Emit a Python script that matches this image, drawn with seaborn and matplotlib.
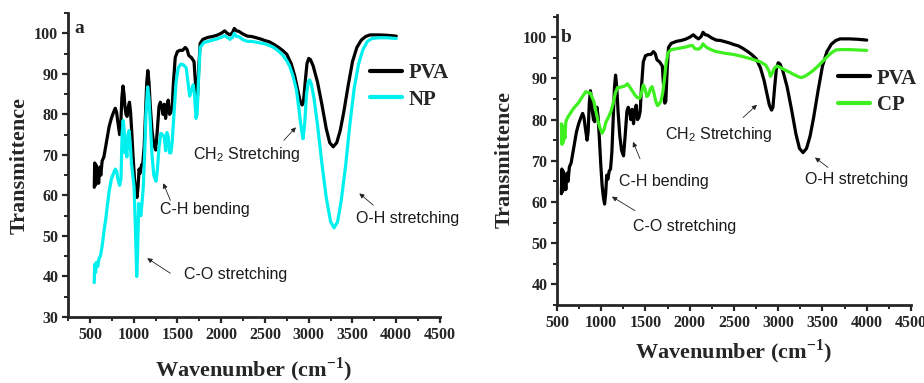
import numpy as np
import pandas as pd
import matplotlib
matplotlib.use("Agg")
import matplotlib.pyplot as plt
from matplotlib.lines import Line2D
from matplotlib.ticker import MultipleLocator
from matplotlib.font_manager import FontProperties
import seaborn as sns

# ---- FTIR spectra ---------------------------------------------------------
pva_wn = [550, 555, 562, 570, 578, 590, 600, 612, 625, 640, 660, 680, 700, 720,
          745, 770, 790, 805, 820, 840, 852, 865, 878, 890, 900, 912, 925, 940,
          952, 965, 980, 995, 1010, 1025, 1038, 1050, 1062, 1075, 1090, 1105,
          1120, 1135, 1150, 1162, 1175, 1190, 1210, 1230, 1252, 1270, 1290, 1305,
          1320, 1335, 1350, 1365, 1380, 1395, 1410, 1425, 1440, 1455, 1475, 1500,
          1530, 1560, 1590, 1610, 1630, 1660, 1690, 1705, 1718, 1730, 1745, 1760,
          1790, 1850, 1900, 1950, 2000, 2040, 2070, 2100, 2130, 2150, 2175, 2200,
          2250, 2300, 2350, 2400, 2450, 2500, 2550, 2600, 2650, 2700, 2750, 2800,
          2840, 2870, 2900, 2925, 2940, 2960, 2980, 3000, 3020, 3050, 3100, 3150,
          3200, 3240, 3280, 3320, 3360, 3400, 3450, 3500, 3550, 3600, 3650, 3700,
          3800, 3900, 4000]
pva_t = [62, 68, 62.5, 67.5, 63, 66, 63, 67, 65, 68.5, 69.5, 72, 74.5, 77,
         79, 80.5, 81.5, 80.5, 78, 75, 77, 84, 87, 85, 82, 80, 79.5, 82,
         83, 80.5, 75, 69, 64, 61, 59.5, 62, 66.5, 65.5, 67.5, 68,
         72, 80, 88, 90.8, 88, 82, 76, 72.5, 71.2, 76, 82, 83,
         82, 80, 82.5, 79, 82, 83.5, 80, 80.5, 82, 88, 94, 95.5,
         95.8, 95.8, 96.5, 96, 94.5, 94, 93, 88, 84, 84.5, 92, 97.5,
         98.5, 99, 99.2, 99.5, 100, 100.6, 100, 99.6, 100.2, 101.2, 100.6, 100.5,
         99.8, 99.3, 99.2, 98.9, 98.6, 98.2, 97.9, 97.3, 96.6, 95.8, 94.8, 92.5,
         89.5, 86.5, 83.5, 82.3, 83, 88, 92.5, 93.8, 93.5, 92, 88, 82.5,
         76.5, 73, 72, 73, 76, 80.5, 87, 93, 96.5, 98.3, 99.2, 99.6,
         99.6, 99.5, 99.3]

np_wn = [550, 555, 565, 575, 590, 605, 620, 640, 660, 680, 700, 720, 745, 770,
         790, 805, 820, 840, 855, 868, 880, 892, 902, 912, 922, 935, 948, 960,
         975, 990, 1005, 1020, 1035, 1045, 1058, 1070, 1082, 1095, 1110, 1125,
         1140, 1160, 1175, 1190, 1210, 1230, 1255, 1270, 1290, 1310, 1330, 1350,
         1365, 1380, 1395, 1410, 1425, 1440, 1460, 1485, 1510, 1540, 1570, 1600,
         1620, 1640, 1660, 1680, 1695, 1712, 1725, 1740, 1760, 1800, 1850, 1900,
         1950, 2000, 2040, 2070, 2100, 2130, 2150, 2175, 2200, 2250, 2300, 2350,
         2400, 2450, 2500, 2550, 2600, 2650, 2700, 2750, 2780, 2820, 2860, 2890,
         2915, 2935, 2955, 2975, 2995, 3010, 3030, 3060, 3100, 3150, 3200, 3250,
         3290, 3330, 3370, 3420, 3470, 3520, 3570, 3620, 3670, 3720, 3800, 3900,
         4000]
np_t = [38.5, 43, 41, 43.5, 42.5, 44.5, 45, 47.5, 51, 54, 57.5, 61, 64, 65.5,
        66.5, 66, 64, 62.5, 64, 75, 78.5, 76, 70.5, 72, 69.5, 75, 76, 73,
        68, 65, 62, 52, 40, 46, 58, 57, 55, 58, 62, 70,
        80, 86.8, 84, 78, 70, 65, 63.5, 66, 72, 75.3, 75, 74.5,
        71, 75.5, 74.5, 70.5, 70.5, 73, 80, 88, 91.5, 92.4, 92.2, 91.5,
        88, 84.5, 86, 87.3, 85, 79, 80, 88, 96.5, 97.7, 98, 98.3,
        98.6, 99, 99.4, 99, 98.5, 99, 100, 99.2, 99.2, 98.4, 98, 98,
        97.8, 97.6, 97.4, 97, 96.5, 95.7, 94.7, 93.2, 92, 89.5, 86, 81,
        76.5, 74, 78, 85, 88, 88.5, 87.5, 84, 77.5, 68, 59.5, 53.5,
        52, 53.5, 58.5, 67, 77.5, 86.5, 92.5, 96, 98, 98.7, 98.9, 98.9,
        98.7]

cp_wn = [550, 556, 565, 572, 580, 590, 600, 620, 650, 680, 710, 740, 770, 800,
         825, 850, 875, 895, 915, 935, 960, 985, 1010, 1030, 1055, 1080, 1110,
         1135, 1160, 1185, 1210, 1240, 1270, 1295, 1320, 1350, 1380, 1410, 1435,
         1455, 1475, 1495, 1515, 1535, 1555, 1575, 1595, 1615, 1635, 1655, 1675,
         1695, 1715, 1735, 1755, 1790, 1850, 1900, 1950, 2000, 2030, 2060, 2100,
         2130, 2150, 2175, 2200, 2250, 2300, 2400, 2500, 2600, 2700, 2800, 2860,
         2895, 2912, 2930, 2960, 2990, 3030, 3080, 3130, 3180, 3230, 3260, 3300,
         3350, 3400, 3450, 3500, 3550, 3600, 3650, 3700, 3800, 3900, 4000]
cp_t = [79, 74, 78.5, 74.5, 77, 75.5, 79.5, 80.5, 81.5, 82.5, 83.3, 84, 85, 86,
        86.8, 86.5, 86.5, 85.5, 84.5, 82.5, 80, 78, 76.7, 77.5, 79.5, 80.5, 82,
        84, 86.5, 87.8, 87.8, 88, 88.2, 88.7, 88, 87, 86, 85.3, 85.2,
        86.5, 88.4, 87.5, 85.6, 86, 87.5, 88, 86.5, 84.5, 83.4, 83.8, 84.5,
        86.5, 90, 94, 96.2, 97, 97.2, 97.4, 97.6, 97.9, 98, 97.2, 97.1,
        97.6, 98.4, 97.8, 97.4, 96.9, 96.5, 96.1, 95.8, 95.3, 94.7, 94, 93.2,
        91.8, 90.5, 91.2, 92.6, 93, 92.6, 92, 91.5, 90.9, 90.4, 90.2, 90.5,
        91.2, 92, 93, 94.1, 95.2, 96.2, 96.9, 97, 97, 96.9, 96.8]

series_labels = ["PVA", "NP", "CP"]
x_ticks = [500, 1000, 1500, 2000, 2500, 3000, 3500, 4000, 4500]

pva = pd.DataFrame({"wn": pva_wn, "T": pva_t})
npd = pd.DataFrame({"wn": np_wn, "T": np_t})
cpd = pd.DataFrame({"wn": cp_wn, "T": cp_t})

# ---- style ------------------------------------------------------------------
sns.set_style("ticks")
plt.rcParams["font.family"] = ["Liberation Serif", "DejaVu Serif"]
plt.rcParams["mathtext.fontset"] = "custom"
plt.rcParams["mathtext.rm"] = "Liberation Serif"
plt.rcParams["mathtext.bf"] = "Liberation Serif:bold"
plt.rcParams["mathtext.sf"] = "Liberation Sans"

C_PVA = "#000000"
C_NP = "#00f0f0"
C_CP = "#3ff020"
LW = 2.3

fig = plt.figure(figsize=(9.24, 3.83), dpi=100)
ax_a = fig.add_axes([0.0736, 0.1723, 0.4026, 0.7937])
ax_b = fig.add_axes([0.6028, 0.2037, 0.3831, 0.7572])

sns.lineplot(data=pva, x="wn", y="T", ax=ax_a, color=C_PVA, lw=LW, sort=False,
             estimator=None, legend=False)
sns.lineplot(data=npd, x="wn", y="T", ax=ax_a, color=C_NP, lw=LW, sort=False,
             estimator=None, legend=False)
sns.lineplot(data=pva, x="wn", y="T", ax=ax_b, color=C_PVA, lw=LW, sort=False,
             estimator=None, legend=False)
sns.lineplot(data=cpd, x="wn", y="T", ax=ax_b, color=C_CP, lw=LW, sort=False,
             estimator=None, legend=False)

ax_a.set_xlim(250, 4500)
ax_a.set_ylim(30, 105)
ax_b.set_xlim(500, 4500)
ax_b.set_ylim(35, 105.4)
ax_a.set_yticks([30, 40, 50, 60, 70, 80, 90, 100])
ax_b.set_yticks([40, 50, 60, 70, 80, 90, 100])

tick_font = FontProperties(family="Liberation Serif", weight="bold", size=11.5)
label_font = dict(family="Liberation Serif", weight="bold", size=16)

for ax in (ax_a, ax_b):
    ax.set_xticks(x_ticks)
    ax.xaxis.set_minor_locator(MultipleLocator(250))
    ax.yaxis.set_minor_locator(MultipleLocator(5))
    sns.despine(ax=ax)
    for side in ("left", "bottom"):
        ax.spines[side].set_linewidth(2.0)
    ax.tick_params(which="major", direction="out", length=4.5, width=1.6, pad=2.5)
    ax.tick_params(which="minor", direction="out", length=3, width=1.4)
    for lab in ax.get_xticklabels() + ax.get_yticklabels():
        lab.set_fontproperties(tick_font)
    ax.set_xlabel(r"Wavenumber (cm$^{\mathbf{-1}}$)", fontdict=label_font)
    ax.set_ylabel("Transmittence", fontdict=label_font)

ax_a.xaxis.labelpad = 9
ax_a.yaxis.labelpad = 3
ax_b.xaxis.labelpad = 5
ax_b.yaxis.labelpad = 6

# panel letters
ax_a.text(0.016, 0.934, "a", transform=ax_a.transAxes, fontsize=14,
          fontweight="bold", family="Liberation Serif", va="baseline")
ax_b.text(0.010, 0.907, "b", transform=ax_b.transAxes, fontsize=14,
          fontweight="bold", family="Liberation Serif", va="baseline")

# legends
leg_prop = dict(family="Liberation Serif", weight="bold", size=15)
h_a = [Line2D([], [], color=C_PVA, lw=3), Line2D([], [], color=C_NP, lw=3)]
ax_a.legend(h_a, [series_labels[0], series_labels[1]], loc="upper left",
            bbox_to_anchor=(0.812, 0.834), frameon=False, prop=leg_prop,
            handlelength=1.55, handletextpad=0.3, labelspacing=0.3,
            borderpad=0, borderaxespad=0)
h_b = [Line2D([], [], color=C_PVA, lw=3), Line2D([], [], color=C_CP, lw=3)]
ax_b.legend(h_b, [series_labels[0], series_labels[2]], loc="upper left",
            bbox_to_anchor=(0.794, 0.815), frameon=False, prop=leg_prop,
            handlelength=1.55, handletextpad=0.3, labelspacing=0.3,
            borderpad=0, borderaxespad=0)

# band assignments: (text, text position, arrow tail, arrow head)
ann_font = dict(family="Liberation Sans", size=11.5, color="#1a1a1a")
arrow = dict(arrowstyle="-|>", lw=0.6, color="#222222", mutation_scale=7,
             shrinkA=0, shrinkB=0)

notes_a = [
    ("CH$_\\mathsf{2}$ Stretching", (1683, 70.2), (2716, 73.6), (2854, 76.8)),
    ("C-H bending", (1304, 56.6), (1419, 58.8), (1338, 63.0)),
    ("C-O stretching", (1579, 40.5), (1419, 40.8), (1155, 44.5)),
    ("O-H stretching", (3543, 54.4), (3738, 57.6), (3578, 60.5)),
]
notes_b = [
    ("CH$_\\mathsf{2}$ Stretching", (1720, 76.3), (2602, 80.5), (2760, 83.6)),
    ("C-H bending", (1201, 65.0), (1438, 70.5), (1359, 74.6)),
    ("C-O stretching", (1359, 54.1), (1381, 57.9), (1121, 61.3)),
    ("O-H stretching", (3302, 65.4), (3562, 68.4), (3415, 70.8)),
]
for ax, notes in ((ax_a, notes_a), (ax_b, notes_b)):
    for txt, pos, tail, head in notes:
        ax.text(pos[0], pos[1], txt, ha="left", va="center", clip_on=False,
                **ann_font)
        ax.annotate("", xy=head, xytext=tail, arrowprops=arrow,
                    annotation_clip=False)

fig.savefig("out.png", dpi=100)
